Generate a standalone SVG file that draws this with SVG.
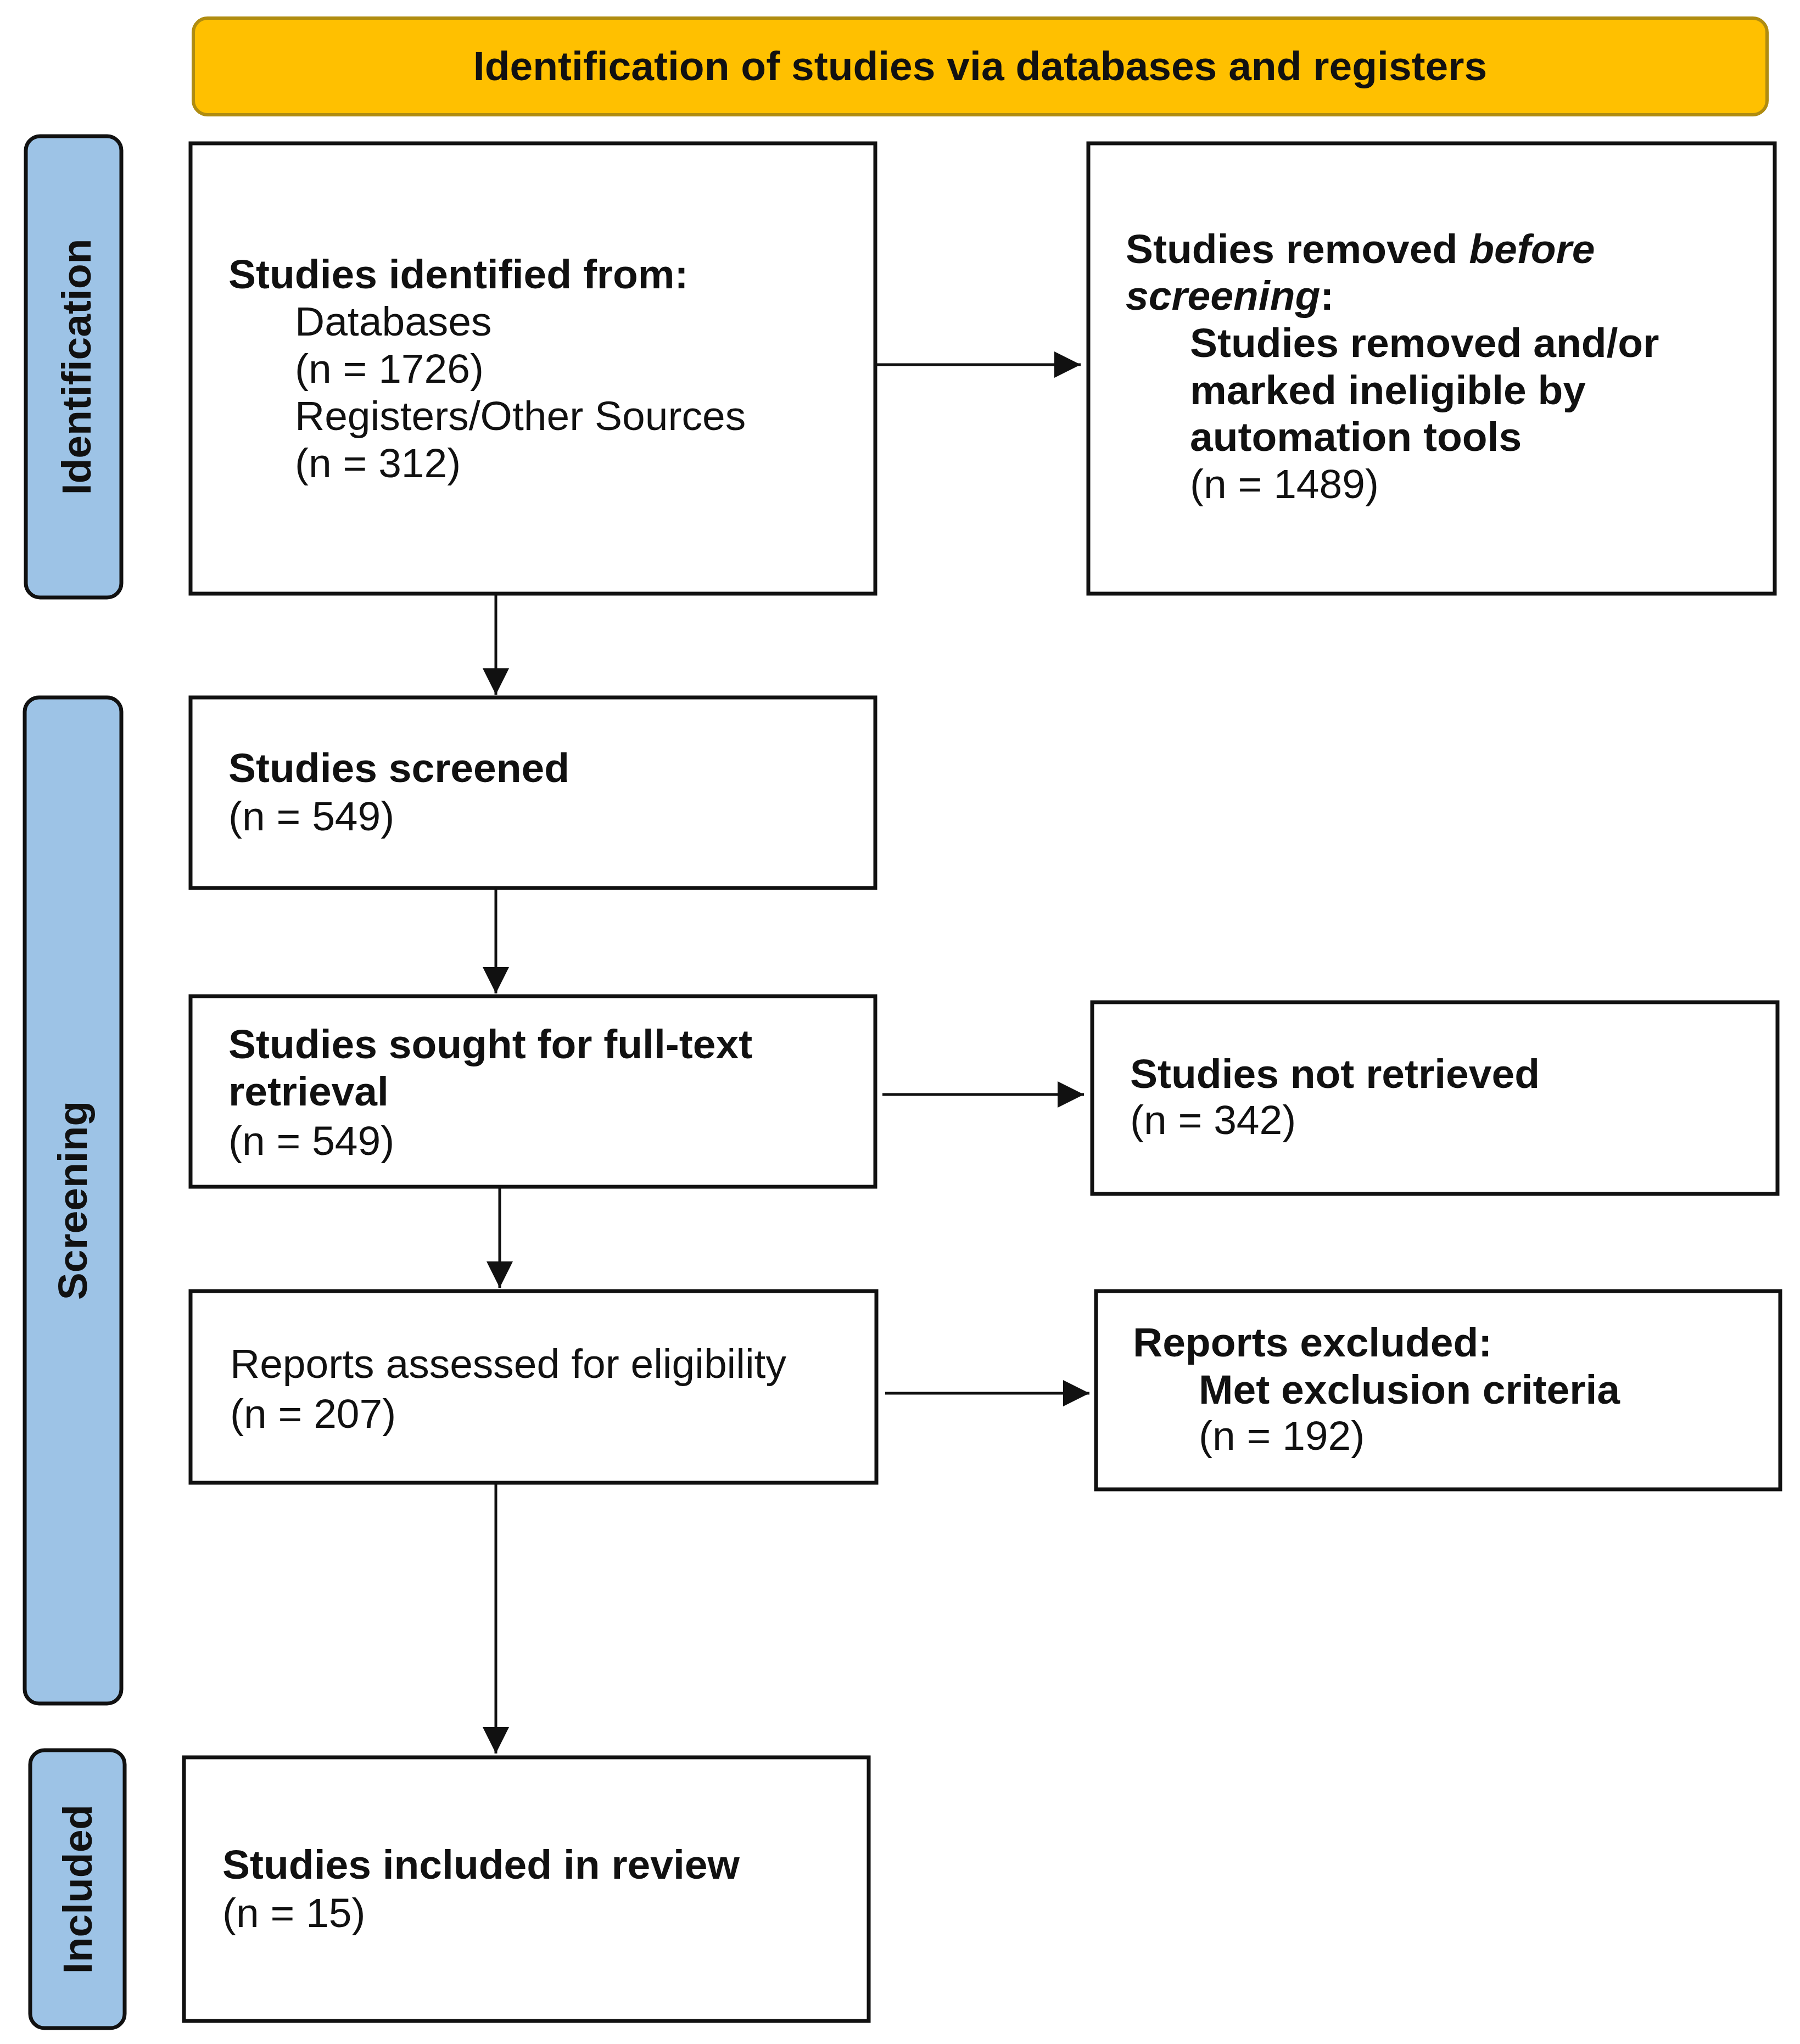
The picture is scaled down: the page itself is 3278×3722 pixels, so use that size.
<svg xmlns="http://www.w3.org/2000/svg" width="3278" height="3722" viewBox="0 0 3278 3722">
<style>
  text { font-family: "Liberation Sans", Arial, sans-serif; font-size: 75px; fill: #111; }
  .b { font-weight: bold; }
  .i { font-style: italic; }
  .box { fill: #fff; stroke: #111; stroke-width: 7; }
  .side { fill: #9DC3E6; stroke: #111; stroke-width: 7; }
  .hdr { fill: #FFC000; stroke: #B08C10; stroke-width: 6; }
  .conn { stroke: #111; stroke-width: 5; fill: none; }
</style>
<defs>
  <marker id="ah" markerUnits="userSpaceOnUse" markerWidth="48" markerHeight="48" refX="48" refY="24" orient="auto" viewBox="0 0 48 48">
    <path d="M0,0 L48,24 L0,48 Z" fill="#111"/>
  </marker>
</defs>
<rect width="3278" height="3722" fill="#fff"/>

<g id="header">
  <rect class="hdr" x="352" y="33" width="2866" height="176" rx="26"/>
  <text class="b" x="1785" y="146" text-anchor="middle">Identification of studies via databases and registers</text>
</g>

<g id="phase-identification">
  <rect class="side" x="47" y="248" width="174" height="840" rx="26"/>
  <text class="b" transform="translate(165,668) rotate(-90)" text-anchor="middle">Identification</text>
</g>
<g id="phase-screening">
  <rect class="side" x="45" y="1270" width="176" height="1832" rx="26"/>
  <text class="b" transform="translate(158,2186) rotate(-90)" text-anchor="middle">Screening</text>
</g>
<g id="phase-included">
  <rect class="side" x="55" y="3187" width="172" height="506" rx="26"/>
  <text class="b" transform="translate(167,3440) rotate(-90)" text-anchor="middle">Included</text>
</g>

<g id="connectors">
  <line class="conn" x1="1594" y1="664" x2="1968" y2="664" marker-end="url(#ah)"/>
  <line class="conn" x1="903" y1="1081" x2="903" y2="1265" marker-end="url(#ah)"/>
  <line class="conn" x1="903" y1="1617" x2="903" y2="1809" marker-end="url(#ah)"/>
  <line class="conn" x1="1607" y1="1993" x2="1974" y2="1993" marker-end="url(#ah)"/>
  <line class="conn" x1="910" y1="2161" x2="910" y2="2345" marker-end="url(#ah)"/>
  <line class="conn" x1="1612" y1="2537" x2="1984" y2="2537" marker-end="url(#ah)"/>
  <line class="conn" x1="903" y1="2700" x2="903" y2="3193" marker-end="url(#ah)"/>
</g>

<g id="identified">
  <rect class="box" x="347" y="261" width="1247" height="820"/>
  <text class="b" x="416" y="525">Studies identified from:</text>
  <text x="537" y="611">Databases</text>
  <text x="537" y="697">(n = 1726)</text>
  <text x="537" y="783">Registers/Other Sources</text>
  <text x="537" y="869">(n = 312)</text>
</g>

<g id="removed">
  <rect class="box" x="1982" y="261" width="1250" height="820"/>
  <text class="b" x="2050" y="479">Studies removed <tspan class="i">before</tspan></text>
  <text class="b" x="2050" y="564"><tspan class="i">screening</tspan>:</text>
  <text class="b" x="2167" y="650">Studies removed and/or</text>
  <text class="b" x="2167" y="736">marked ineligible by</text>
  <text class="b" x="2167" y="821">automation tools</text>
  <text x="2167" y="907">(n = 1489)</text>
</g>

<g id="screened">
  <rect class="box" x="347" y="1270" width="1247" height="347"/>
  <text class="b" x="416" y="1424">Studies screened</text>
  <text x="416" y="1512">(n = 549)</text>
</g>

<g id="sought">
  <rect class="box" x="347" y="1814" width="1247" height="347"/>
  <text class="b" x="416" y="1927">Studies sought for full-text</text>
  <text class="b" x="416" y="2013">retrieval</text>
  <text x="416" y="2103">(n = 549)</text>
</g>

<g id="not-retrieved">
  <rect class="box" x="1989" y="1825" width="1248" height="349"/>
  <text class="b" x="2058" y="1981">Studies not retrieved</text>
  <text x="2058" y="2065">(n = 342)</text>
</g>

<g id="assessed">
  <rect class="box" x="347" y="2351" width="1249" height="349"/>
  <text x="419" y="2509">Reports assessed for eligibility</text>
  <text x="419" y="2600">(n = 207)</text>
</g>

<g id="excluded">
  <rect class="box" x="1996" y="2351" width="1246" height="361"/>
  <text class="b" x="2063" y="2470">Reports excluded:</text>
  <text class="b" x="2183" y="2556">Met exclusion criteria</text>
  <text x="2183" y="2640">(n = 192)</text>
</g>

<g id="included">
  <rect class="box" x="335" y="3200" width="1247" height="480"/>
  <text class="b" x="405" y="3421">Studies included in review</text>
  <text x="405" y="3509">(n = 15)</text>
</g>
</svg>
